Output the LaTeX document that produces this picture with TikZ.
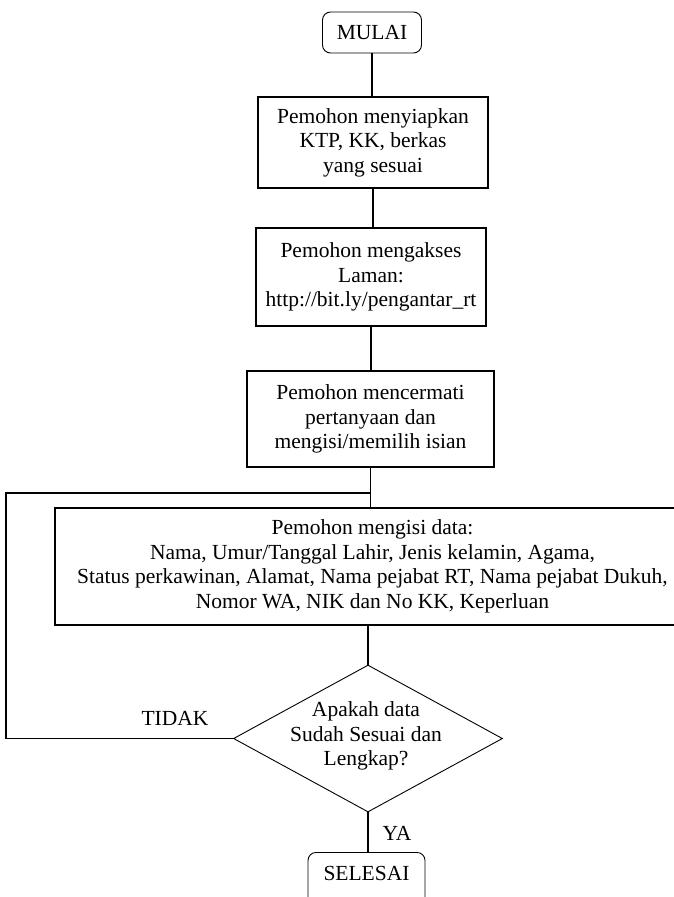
\documentclass[tikz,border=0pt]{standalone}
\usepackage{fontspec}
\setmainfont{Liberation Serif}
\usetikzlibrary{shapes.geometric}
\tikzset{
  txt/.style={font=\fontsize{21.5}{24.5}\selectfont, align=center},
  procbox/.style={txt, draw, line width=1.6pt, inner sep=0pt},
  termbox/.style={txt, draw, line width=0.9pt, rounded corners=8pt, inner sep=0pt},
  decision/.style={draw, diamond, line width=0.9pt, inner sep=0pt, minimum width=269pt, minimum height=147pt},
  conn/.style={line width=1.6pt}
}
\begin{document}
\begin{tikzpicture}[x=1pt, y=-1pt]
\useasboundingbox (0,0) rectangle (674,897);
\clip (0,0) rectangle (674,897);
\fill[white] (0,0) rectangle (674,897);

\node (mulai) [termbox, minimum width=99pt, minimum height=41pt] at (372,32.5) {MULAI};
\node (b1) [procbox, minimum width=230pt, minimum height=91pt] at (373,142.5)
  {Pemohon menyiapkan\\KTP, KK, berkas\\yang sesuai};
\node (b2) [procbox, minimum width=230pt, minimum height=98pt] at (371,277)
  {Pemohon mengakses\\Laman:\\http://bit.ly/pengantar\_rt};
\node (b3) [procbox, minimum width=247pt, minimum height=96pt] at (370.5,419)
  {Pemohon mencermati\\pertanyaan dan\\mengisi/memilih isian};
\node (data) [procbox, minimum width=635pt, minimum height=117pt] at (372.5,566.5)
  {Pemohon mengisi data:\\Nama, Umur/Tanggal Lahir, Jenis kelamin, Agama,\\Status perkawinan, Alamat, Nama pejabat RT, Nama pejabat Dukuh,\\Nomor WA, NIK dan No KK, Keperluan};
\node (q) [decision] at (368,738.5) {};
\node (qt) [txt] at (366,736) {Apakah data\\Sudah Sesuai dan\\Lengkap?};
\node (sel) [termbox, minimum width=117pt, minimum height=60pt, anchor=north, text depth=18pt] at (366.5,852) {SELESAI};

\node (tidak) [txt] at (175,718) {TIDAK};
\node (ya) [txt] at (397,833) {YA};

\coordinate (lc) at (6,493);
\coordinate (j) at (371,493);

\draw[conn] (mulai.south) -- (mulai.south |- b1.north);
\draw[conn] (b1.south) -- (b1.south |- b2.north);
\draw[conn] (b2.south) -- (b2.south |- b3.north);
\draw[conn] (b3.south) -- (b3.south |- data.north);
\draw[conn] (q.west) -| (lc) -- (j);
\draw[conn] (q.north |- data.south) -- (q.north);
\draw[conn] (q.south) -- (q.south |- sel.north);
\end{tikzpicture}
\end{document}
